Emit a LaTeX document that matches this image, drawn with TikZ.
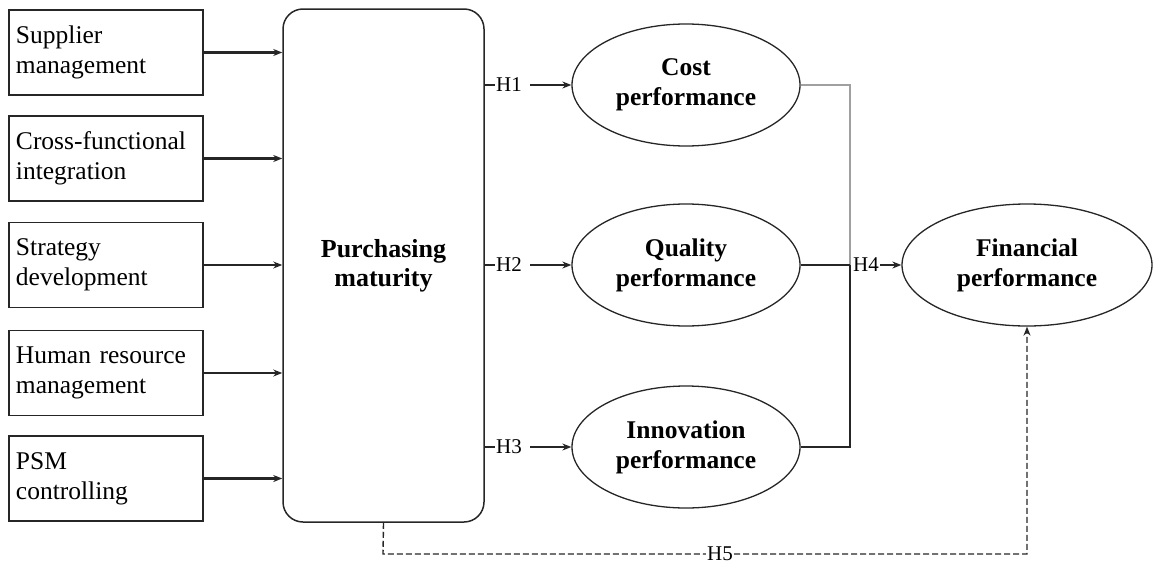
\documentclass[tikz,border=0pt]{standalone}
\usepackage{fontspec}
\setmainfont{Liberation Serif}
\usetikzlibrary{shapes.geometric,arrows.meta,positioning}
\definecolor{ink}{HTML}{262626}
\definecolor{soft}{HTML}{A0A0A0}
\tikzset{
  dimbox/.style={draw=ink, line width=1.5pt, minimum width=194pt, minimum height=85pt,
    text width=180pt, inner xsep=7pt, align=left, font=\fontsize{25.5}{30}\selectfont},
  core/.style={draw=ink, line width=1.5pt, rounded corners=20pt, minimum width=201pt,
    minimum height=513pt, align=center, font=\bfseries\fontsize{26}{29}\selectfont},
  perf/.style={ellipse, draw=ink, line width=1.3pt, minimum width=228pt, minimum height=122pt,
    inner sep=0pt, align=center, font=\bfseries\fontsize{25.5}{30}\selectfont},
  hyp/.style={inner sep=1pt, font=\fontsize{21}{24}\selectfont},
  strong/.style={draw=ink, line width=3pt, -{Stealth[length=9pt,width=7pt]}},
  weak/.style={draw=ink, line width=1.2pt, -{Stealth[length=9pt,width=7pt]}},
  link/.style={draw=ink, line width=1.4pt},
  tip/.style={-{Stealth[length=9pt,width=7pt]}},
}
\begin{document}
\begin{tikzpicture}[x=1pt, y=-1pt]
  \useasboundingbox (0,0) rectangle (1159,565);

  % dimensions of purchasing maturity
  \node[dimbox] (sup) at (106,52.5) {Supplier\\management};
  \node[dimbox] (cfi) at (106,158.5) {Cross-functional\\integration};
  \node[dimbox] (str) at (106,265) {Strategy\\development};
  \node[dimbox] (hrm) at (106,373) {Human resource\\management};
  \node[dimbox] (psm) at (106,478.5) {PSM\\controlling};

  \node[core] (pm) at (383.5,265.5) {Purchasing\\maturity};

  % performance constructs
  \node[perf] (cost) at (686,85) {Cost\\performance};
  \node[perf] (qual) at (686,265) {Quality\\performance};
  \node[perf] (inno) at (686,447) {Innovation\\performance};
  \node[perf, minimum width=250pt] (fin) at (1027,265) {Financial\\performance};

  \draw[strong] (sup.east) -- (sup.east -| pm.west);
  \draw[strong] (cfi.east) -- (cfi.east -| pm.west);
  \draw[weak] (str.east) -- (str.east -| pm.west);
  \draw[weak] (hrm.east) -- (hrm.east -| pm.west);
  \draw[strong] (psm.east) -- (psm.east -| pm.west);

  % H1--H3
  \node[hyp] (h1) at (509,85) {H1};
  \node[hyp] (h2) at (509,265) {H2};
  \node[hyp] (h3) at (509,447) {H3};
  \draw[link] (h1.west -| pm.east) -- (h1.west);
  \draw[link, tip] ([xshift=7pt]h1.east) -- (cost.west);
  \draw[link] (h2.west -| pm.east) -- (h2.west);
  \draw[link, tip] ([xshift=7pt]h2.east) -- (qual.west);
  \draw[link] (h3.west -| pm.east) -- (h3.west);
  \draw[link, tip] ([xshift=7pt]h3.east) -- (inno.west);

  % H4
  \coordinate (join) at (850,265);
  \node[hyp, anchor=west] (h4) at (852,265) {H4};
  \draw[soft, line width=1.4pt] (cost.east) -| (join);
  \draw[link] (qual.east) -- (join);
  \draw[link] (inno.east) -| (join);
  \draw[link, tip] (h4.east) -- (fin.west);

  % H5
  \coordinate (down) at (383,554);
  \node[hyp, fill=white] (h5) at (720,554) {H5};
  \draw[link, dashed, dash pattern=on 6pt off 3pt, tip] (pm.south) -- (down) -- (h5.west) (h5.east) -| (fin.south);
\end{tikzpicture}
\end{document}
